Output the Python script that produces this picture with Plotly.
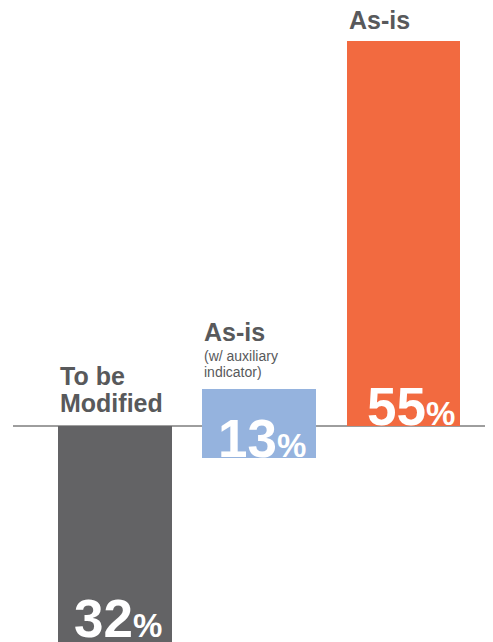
import plotly.graph_objects as go

# ---- data ----
categories = ["To be Modified", "As-is (w/ auxiliary indicator)", "As-is"]
percent_values = [32, 13, 55]
bar_top = [0, 5.3, 55]
bar_bottom = [-32, -4.6, 0]
bar_colors = ["#636365", "#95b3de", "#f26a40"]

FONT = "Liberation Sans, Arial, Helvetica, sans-serif"
TXT = "#58595b"

xs = list(range(len(categories)))
fig = go.Figure()
fig.add_trace(go.Bar(
    x=xs,
    y=[t - b for t, b in zip(bar_top, bar_bottom)],
    base=bar_bottom,
    width=0.79,
    marker=dict(color=bar_colors, line=dict(width=0)),
    hoverinfo="skip",
    showlegend=False,
))

W = 0.79
ann = []
def lab(x, y, text, size, bold=True, color=TXT, xanchor="left"):
    ann.append(dict(x=x, y=y, xref="x", yref="y", text=(f"<b>{text}</b>" if bold else text),
                    showarrow=False, xanchor=xanchor, yanchor="middle",
                    font=dict(family=FONT, size=size, color=color), align="left"))

# category labels
lab(0 - W / 2, 7.1, "To be", 25)
lab(0 - W / 2, 3.29, "Modified", 25)
lab(1 - W / 2, 13.43, "As-is", 25)
lab(1 - W / 2, 10.0, "(w/ auxiliary", 14, bold=False)
lab(1 - W / 2, 7.77, "indicator)", 14, bold=False)
lab(2 - W / 2, 57.96, "As-is", 25)

# percent labels
pct_pos = [(0.021, -27.54), (1.0156, -1.73), (2.052, 2.74)]
for v, (px, py) in zip(percent_values, pct_pos):
    ann.append(dict(x=px, y=py, xref="x", yref="y",
                    text=f"<b>{v}<span style='font-size:33px'>%</span></b>",
                    showarrow=False, xanchor="center", yanchor="middle",
                    font=dict(family=FONT, size=53, color="white")))

fig.update_layout(
    width=493, height=642,
    margin=dict(l=0, r=0, t=0, b=0),
    paper_bgcolor="white", plot_bgcolor="white",
    xaxis=dict(range=[-0.7418, 2.676], visible=False, fixedrange=True),
    yaxis=dict(range=[-32.0, 59.714], visible=False, fixedrange=True),
    annotations=ann,
    shapes=[dict(type="line", xref="paper", yref="y", x0=5 / 493, x1=1, y0=0, y1=0,
                 line=dict(color="#3d3d3d", width=1), layer="below")],
    bargap=0,
)

fig.write_html("out.html", config={"displayModeBar": False})
